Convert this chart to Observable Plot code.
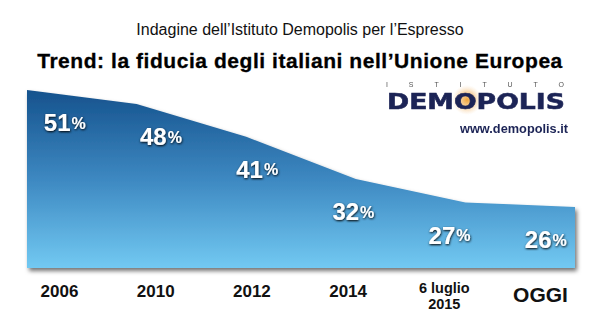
<!DOCTYPE html>
<html>
<head>
<meta charset="utf-8">
<script src="https://cdn.jsdelivr.net/npm/d3@7"></script>
<script src="https://cdn.jsdelivr.net/npm/@observablehq/plot@0.6"></script>
<style>
  html, body { margin: 0; padding: 0; background: #fff; }
  body { font-family: "Liberation Sans", Arial, Helvetica, sans-serif; }
  #wrap { position: relative; width: 600px; height: 327px; overflow: hidden; background: #fff; }
  .sub { position: absolute; left: 0; top: 22px; width: 600px; text-align: center; font-size: 16px; line-height: 16px; color: #111; white-space: nowrap; }
  .ttl { position: absolute; left: 0; top: 50px; width: 600px; text-align: center; font-size: 21px; line-height: 21px; letter-spacing: 0.55px; font-weight: bold; color: #000; white-space: nowrap; -webkit-text-stroke: 0.3px #000; }
  #plots { position: absolute; left: 0; top: 75px; width: 600px; height: 252px; }
  #plots svg { position: absolute; left: 0; top: 0; overflow: visible; }
  #logo { position: absolute; left: 0; top: 0; pointer-events: none; }
</style>
</head>
<body>
<div id="wrap">
  <div class="sub">Indagine dell’Istituto Demopolis per l’Espresso</div>
  <div class="ttl" id="ttl">Trend: la fiducia degli italiani nell’Unione Europea</div>
  <div id="plots"></div>
  <svg id="logo" width="600" height="327" xmlns="http://www.w3.org/2000/svg">
    <defs>
      <radialGradient id="glow" cx="0.5" cy="0.5" r="0.5">
        <stop offset="0" stop-color="#f0a030" stop-opacity="0.95"/>
        <stop offset="0.55" stop-color="#f3b86a" stop-opacity="0.55"/>
        <stop offset="1" stop-color="#f7d7b0" stop-opacity="0"/>
      </radialGradient>
    </defs>
    <circle cx="467" cy="100" r="15" fill="url(#glow)"/>
    <text x="386" y="87" font-family="Liberation Sans, Arial, sans-serif" font-size="7" fill="#555" textLength="178" lengthAdjust="spacing">ISTITUTO</text>
    <text x="387" y="109" font-family="DejaVu Sans, Liberation Sans, sans-serif" font-weight="bold" font-size="22" fill="#1c2456" stroke="#1c2456" stroke-width="0.6" textLength="178" lengthAdjust="spacingAndGlyphs">DEMOPOLIS</text>
    <text x="460" y="133" font-family="Liberation Sans, Arial, sans-serif" font-weight="bold" font-size="13" fill="#1c2456" textLength="108" lengthAdjust="spacingAndGlyphs">www.demopolis.it</text>
  </svg>
</div>
<script>
// ---- data ----
const periods = ["2006", "2010", "2012", "2014", "6 luglio\n2015", "OGGI"];
const trust = [51, 48, 41, 32, 27, 26];
const baseValue = 13; // bottom of the value axis

const data = periods.map((label, i) => ({i, label, value: trust[i]}));

const W = 600, H = 252;
const yScale = {domain: [baseValue, 51], axis: null};
const vMargins = {marginTop: 15, marginBottom: 59};

// gradient + shadow defs
function defs() {
  const d = d3.create("svg:defs");
  const g = d.append("linearGradient").attr("id", "fillGrad")
    .attr("x1", 0).attr("y1", 0).attr("x2", 0).attr("y2", 1);
  g.append("stop").attr("offset", 0).attr("stop-color", "#15528d");
  g.append("stop").attr("offset", 0.5).attr("stop-color", "#3d88c1");
  g.append("stop").attr("offset", 1).attr("stop-color", "#72c9f2");
  const f = d.append("filter").attr("id", "shadow")
    .attr("x", "-10%").attr("y", "-10%").attr("width", "120%").attr("height", "130%");
  f.append("feDropShadow").attr("dx", 2).attr("dy", 3).attr("stdDeviation", 2.2)
    .attr("flood-color", "#000").attr("flood-opacity", 0.55);
  const t = d.append("filter").attr("id", "tshadow")
    .attr("x", "-20%").attr("y", "-30%").attr("width", "140%").attr("height", "160%");
  t.append("feDropShadow").attr("dx", 0.5).attr("dy", 1).attr("stdDeviation", 1.3)
    .attr("flood-color", "#000").attr("flood-opacity", 1);
  return d.node();
}

// area plot (spans the full band)
const areaPlot = Plot.plot({
  width: W, height: H,
  marginLeft: 27, marginRight: 25, ...vMargins,
  x: {domain: [0, periods.length - 1], axis: null},
  y: yScale,
  marks: [
    defs,
    Plot.areaY(data, {x: "i", y1: baseValue, y2: "value", fill: "url(#fillGrad)", curve: "linear"})
  ]
});
d3.select(areaPlot).selectAll("path").attr("filter", "url(#shadow)").attr("stroke-linejoin", "round");

// labels + category axis
const isYear = d => d.label !== "OGGI" && !d.label.includes("\n");
const labelPlot = Plot.plot({
  width: W, height: H,
  marginLeft: 59, marginRight: 60, ...vMargins,
  x: {domain: [0, periods.length - 1], axis: null},
  y: yScale,
  style: {fontFamily: "Liberation Sans, Arial, sans-serif", background: "transparent"},
  marks: [
    Plot.text(data, {x: "i", y: "value", text: d => String(d.value), dy: 33, dx: 11,
      textAnchor: "end", fill: "white", fontSize: 24, fontWeight: "bold"}),
    Plot.text(data, {x: "i", y: "value", text: () => "%", dy: 33, dx: 12,
      textAnchor: "start", fill: "white", fontSize: 16, fontWeight: "bold"}),
    Plot.text(data.filter(isYear), {x: "i", frameAnchor: "bottom", text: "label", lineAnchor: "bottom",
      dy: 28, fontSize: 17, fontWeight: "bold", fill: "#111"}),
    Plot.text(data.filter(d => d.label.includes("\n")), {x: "i", frameAnchor: "bottom", text: "label", lineAnchor: "bottom",
      dy: 40, fontSize: 14.5, lineHeight: 1.05, fontWeight: "bold", fill: "#111"}),
    Plot.text(data.filter(d => d.label === "OGGI"), {x: "i", frameAnchor: "bottom", text: "label", lineAnchor: "bottom",
      dy: 33, fontSize: 21, fontWeight: "bold", fill: "#111"})
  ]
});
// shadow on the white value labels
d3.select(labelPlot).selectAll("g[aria-label='text']").filter((_, k) => k < 2).attr("filter", "url(#tshadow)");
labelPlot.insertBefore(defs(), labelPlot.firstChild);

document.getElementById("plots").append(areaPlot, labelPlot);
</script>
</body>
</html>
